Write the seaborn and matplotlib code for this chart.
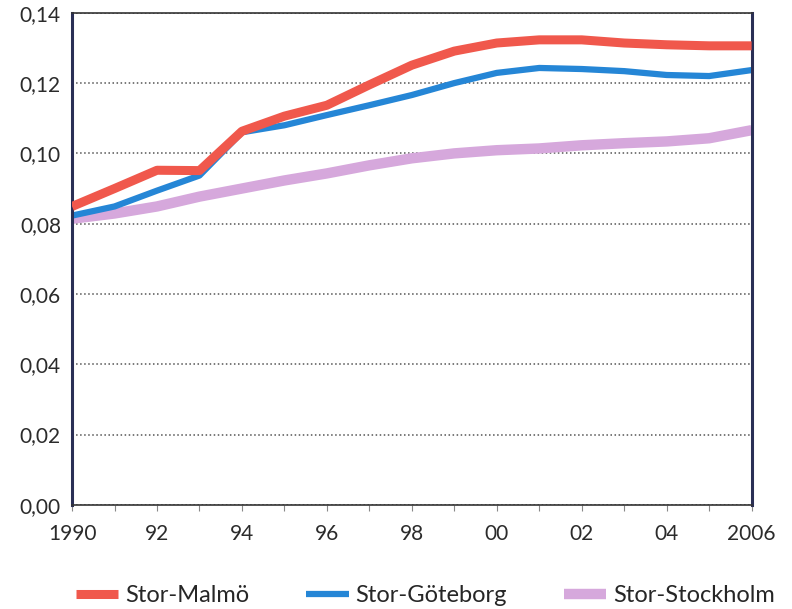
import pandas as pd
import numpy as np
import matplotlib.pyplot as plt
import seaborn as sns
from matplotlib.ticker import FuncFormatter

# values
years = list(range(1990, 2007))
malmo = [0.0849, 0.0900, 0.0952, 0.0951, 0.1063, 0.1106, 0.1137, 0.1195, 0.1251, 0.1291,
         0.1314, 0.1323, 0.1323, 0.1314, 0.1309, 0.1306, 0.1306]
goteborg = [0.0823, 0.0849, 0.0894, 0.0937, 0.1060, 0.1080, 0.1109, 0.1137, 0.1166, 0.1200,
            0.1229, 0.1243, 0.1240, 0.1234, 0.1223, 0.1220, 0.1237]
stockholm = [0.0814, 0.0829, 0.0849, 0.0877, 0.0900, 0.0923, 0.0943, 0.0966, 0.0986, 0.1000,
             0.1009, 0.1014, 0.1023, 0.1029, 0.1034, 0.1043, 0.1066]
x_labels = ['1990', '92', '94', '96', '98', '00', '02', '04', '2006']

df = pd.DataFrame({'År': years, 'Stor-Malmö': malmo,
                   'Stor-Göteborg': goteborg, 'Stor-Stockholm': stockholm})

sns.set_theme(style='white')
plt.rcParams['font.family'] = ['Lato', 'DejaVu Sans']

fig = plt.figure(figsize=(7.92, 6.09), dpi=100)
ax = fig.add_axes([0.091, 0.171, 0.858, 0.808])

# draw order: Stockholm underneath, Malmö on top
styles = {
    'Stor-Stockholm': ('#d6a8dc', 7.5, 1),
    'Stor-Göteborg': ('#2586d6', 4.5, 2),
    'Stor-Malmö': ('#f0584c', 6.5, 3),
}
for name in ['Stor-Stockholm', 'Stor-Göteborg', 'Stor-Malmö']:
    col, lw, z = styles[name]
    sns.lineplot(data=df, x='År', y=name, ax=ax, color=col, linewidth=lw,
                 label=name, zorder=z, solid_capstyle='butt')

ax.set_xlim(1990, 2006)
ax.set_ylim(0, 0.14)
ax.set_yticks(np.arange(0, 0.141, 0.02))
ax.yaxis.set_major_formatter(FuncFormatter(lambda v, p: f'{v:.2f}'.replace('.', ',')))
ax.set_xticks(range(1990, 2007, 2))
ax.set_xticklabels(x_labels)
ax.set_xticks(years, minor=True)
ax.tick_params(axis='x', which='both', direction='out', length=4, width=0.8,
               color='#888888', bottom=True, labelsize=15, pad=10, labelcolor='#2b2b2b')
ax.tick_params(axis='y', length=0, labelsize=15, pad=8, labelcolor='#2b2b2b')
ax.set_xlabel('')
ax.set_ylabel('')

ax.grid(axis='y', linestyle=':', linewidth=1.1, color='#555555')
ax.set_axisbelow(True)
for side in ['top', 'bottom']:
    ax.spines[side].set_color('#333333')
    ax.spines[side].set_linewidth(1.2)
for side in ['left', 'right']:
    ax.spines[side].set_color('#2a2f55')
    ax.spines[side].set_linewidth(2.2)

handles, labels = ax.get_legend_handles_labels()
order = [labels.index(n) for n in ['Stor-Malmö', 'Stor-Göteborg', 'Stor-Stockholm']]
ax.legend([handles[i] for i in order], [labels[i] for i in order],
          loc='center', bbox_to_anchor=(0.52, -0.184), ncol=3, frameon=False,
          fontsize=17, handlelength=1.8, columnspacing=2.4, handletextpad=0.3)

fig.savefig('out.png', dpi=100)
